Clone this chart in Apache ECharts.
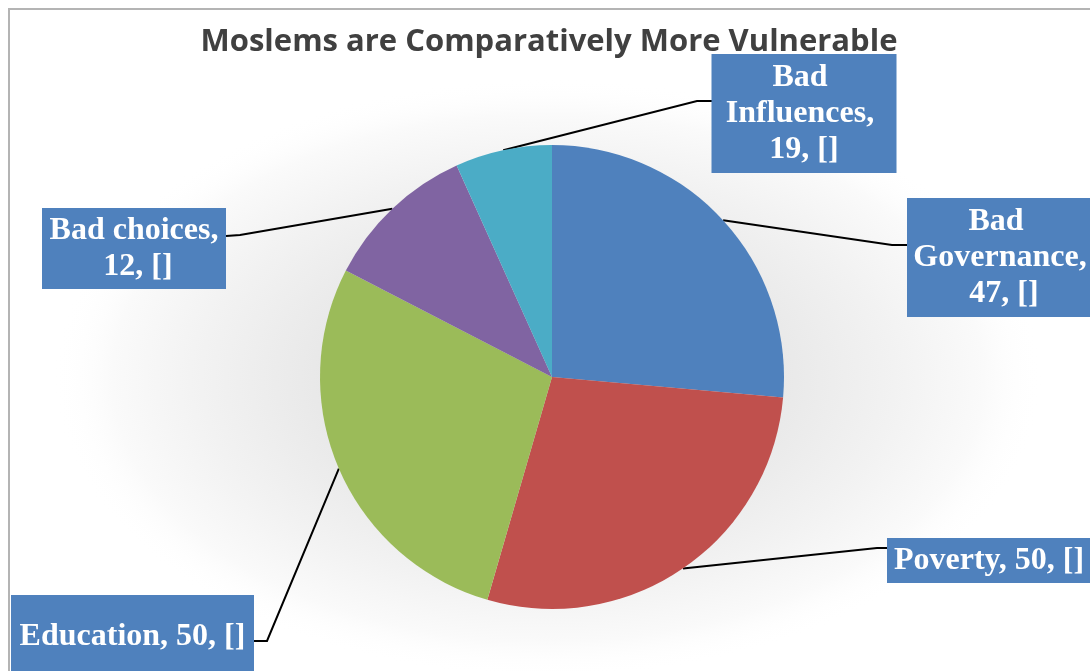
<!DOCTYPE html>
<html>
<head>
<meta charset="utf-8">
<script src="https://cdn.jsdelivr.net/npm/echarts@6/dist/echarts.min.js"></script>
<style>
  html, body { margin: 0; padding: 0; background: #ffffff; }
  #chart { width: 1090px; height: 671px; }
</style>
</head>
<body>
<div id="chart"></div>
<script>
// ---- data ----
const titleText = 'Moslems are Comparatively More Vulnerable';
const categories = ['Bad Governance', 'Poverty', 'Education', 'Bad choices', 'Bad Influences'];
// slice sizes as drawn
const sliceValues = [47, 50, 50, 19, 12];
// numbers printed in the data labels
const labelValues = [47, 50, 50, 12, 19];
const colors = ['#4F81BD', '#C0504D', '#9BBB59', '#8064A2', '#4BACC6'];

// ---- layout / style ----
const CX = 552, CY = 377, R = 232;
const labelStyle = [
  { cx: 1000, cy: 257.5, w: 176, pad: [5.5, 5], bend: [892, 245], end: [907, 245] },
  { cx: 989, cy: 560.5, w: 194, pad: [4.5, 5], bend: [877, 548], end: [887, 548] },
  { cx: 132.5, cy: 637, w: 233, pad: [24, 5], bend: [267, 641], end: [254, 641] },
  { cx: 134, cy: 248.5, w: 174, pad: [4.5, 5], bend: [240, 235], end: [226, 236] },
  { cx: 804, cy: 113.5, w: 175, pad: [5.5, 5], bend: [697, 101], end: [712, 101] }
];

const total = sliceValues.reduce((a, b) => a + b, 0);
function edgePoint(i) {
  let before = 0;
  for (let k = 0; k < i; k++) before += sliceValues[k];
  const a = (before + sliceValues[i] / 2) / total * Math.PI * 2;
  return [CX + R * Math.sin(a), CY - R * Math.cos(a)];
}

const chart = echarts.init(document.getElementById('chart'), null, { renderer: 'canvas' });

const option = {
  animation: false,
  backgroundColor: '#ffffff',
  title: {
    text: titleText,
    left: 544,
    top: 18,
    textAlign: 'center',
    textStyle: {
      fontFamily: 'Open Sans',
      fontWeight: 'bold',
      fontSize: 31,
      lineHeight: 38,
      color: '#404040'
    }
  },
  graphic: [
    {
      type: 'rect',
      z: -10,
      silent: true,
      shape: { x: 9, y: 9, width: 1120, height: 700 },
      style: { fill: 'none', stroke: '#b4b4b4', lineWidth: 2 }
    },
    {
      type: 'circle',
      z: -5,
      silent: true,
      x: 548, y: 378,
      scaleX: 1.65, scaleY: 1,
      shape: { cx: 0, cy: 0, r: 300 },
      style: {
        fill: new echarts.graphic.RadialGradient(0.5, 0.5, 0.5, [
          { offset: 0, color: '#dcdcdc' },
          { offset: 0.45, color: '#e8e8e8' },
          { offset: 0.7, color: '#f2f2f2' },
          { offset: 0.88, color: '#fafafa' },
          { offset: 1, color: 'rgba(255,255,255,0)' }
        ])
      }
    }
  ],
  series: [
    {
      type: 'pie',
      center: [CX, CY],
      radius: R,
      startAngle: 90,
      clockwise: true,
      avoidLabelOverlap: false,
      itemStyle: { borderWidth: 0 },
      emphasis: { disabled: true },
      label: {
        show: true,
        position: 'outside',
        formatter: (p) => categories[p.dataIndex] + ', ' + labelValues[p.dataIndex] + ', []',
        fontFamily: 'Liberation Serif',
        fontWeight: 'bold',
        fontSize: 32,
        lineHeight: 36,
        color: '#ffffff',
        backgroundColor: '#4F81BD',
        align: 'center',
        overflow: 'break'
      },
      labelLine: {
        show: true,
        lineStyle: { color: '#000000', width: 2 }
      },
      labelLayout: (params) => {
        const s = labelStyle[params.dataIndex];
        return {
          x: s.cx,
          y: s.cy,
          align: 'center',
          verticalAlign: 'middle',
          labelLinePoints: [edgePoint(params.dataIndex), s.bend, s.end]
        };
      },
      data: categories.map((name, i) => ({
        name: name,
        value: sliceValues[i],
        itemStyle: { color: colors[i] },
        label: { width: labelStyle[i].w, padding: labelStyle[i].pad }
      }))
    }
  ]
};

chart.setOption(option);
</script>
</body>
</html>
